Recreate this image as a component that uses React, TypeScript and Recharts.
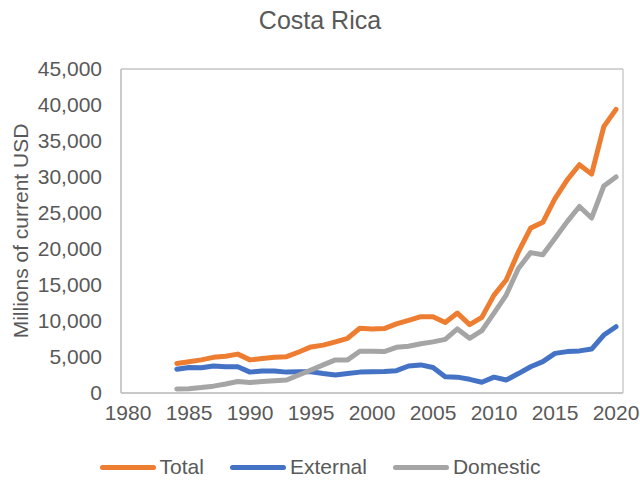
import React from "react";
import { LineChart, Line, XAxis, YAxis, Label, CartesianGrid } from "recharts";

const years = [
  1984, 1985, 1986, 1987, 1988, 1989, 1990, 1991, 1992, 1993, 1994, 1995, 1996,
  1997, 1998, 1999, 2000, 2001, 2002, 2003, 2004, 2005, 2006, 2007, 2008, 2009,
  2010, 2011, 2012, 2013, 2014, 2015, 2016, 2017, 2018, 2019, 2020,
];

const total = [
  4100, 4350, 4600, 4950, 5100, 5400, 4600, 4800, 4950, 5050, 5700, 6400, 6650,
  7100, 7600, 9000, 8900, 8950, 9600, 10100, 10600, 10600, 9800, 11100, 9500,
  10500, 13600, 15700, 19600, 22900, 23700, 27000, 29600, 31700, 30400, 37000,
  39400,
];

const external = [
  3300, 3550, 3500, 3750, 3650, 3650, 2900, 3050, 3050, 2900, 2950, 2950, 2700,
  2500, 2700, 2900, 2950, 3000, 3100, 3750, 3900, 3550, 2250, 2200, 1900, 1500,
  2200, 1800, 2700, 3650, 4350, 5500, 5750, 5850, 6100, 8050, 9200,
];

const domestic = [
  550, 600, 750, 950, 1250, 1600, 1450, 1600, 1700, 1800, 2500, 3200, 3900, 4600,
  4600, 5800, 5800, 5750, 6350, 6500, 6850, 7100, 7450, 8900, 7600, 8650, 11100,
  13600, 17300, 19500, 19200, 21500, 23800, 25900, 24300, 28750, 30000,
];

const xTicks = [1980, 1985, 1990, 1995, 2000, 2005, 2010, 2015, 2020];
const yTicks = [0, 5000, 10000, 15000, 20000, 25000, 30000, 35000, 40000, 45000];

const series = [
  { key: "total", name: "Total", color: "#ED7D31" },
  { key: "external", name: "External", color: "#4472C4" },
  { key: "domestic", name: "Domestic", color: "#A5A5A5" },
];

const data = years.map((year, i) => ({
  year,
  total: total[i],
  external: external[i],
  domestic: domestic[i],
}));

const FONT = '"Liberation Sans", Arial, sans-serif';
const TEXT = "#595959";
const BORDER = "#C4C4C4";

export default function App() {
  return (
    <div
      style={{
        position: "absolute",
        left: 0,
        top: 0,
        width: 640,
        height: 480,
        background: "#fff",
        fontFamily: FONT,
      }}
    >
      <div
        style={{
          position: "absolute",
          top: 8,
          left: 0,
          width: 640,
          textAlign: "center",
          fontSize: 25,
          lineHeight: "25px",
          color: TEXT,
        }}
      >
        Costa Rica
      </div>
      <LineChart
        width={640}
        height={480}
        data={data}
        margin={{ top: 69, right: 17, bottom: 57, left: 0 }}
      >
        {/* plot-area frame, taken from the chart's own offset */}
        <CartesianGrid
          stroke={BORDER}
          strokeWidth={1.3}
          horizontalCoordinatesGenerator={({ offset }: any) => [
            offset.top,
            offset.top + offset.height,
          ]}
          verticalCoordinatesGenerator={({ offset }: any) => [
            offset.left,
            offset.left + offset.width,
          ]}
        />
        <XAxis
          dataKey="year"
          type="number"
          domain={[1980, 2020]}
          ticks={xTicks}
          padding={{ left: 7, right: 7 }}
          height={30}
          tickLine={false}
          tickSize={0}
          tickMargin={12}
          axisLine={{ stroke: BORDER, strokeWidth: 1.3 }}
          tick={{ fill: TEXT, fontSize: 21, fontFamily: FONT }}
        />
        <YAxis
          type="number"
          domain={[0, 45000]}
          ticks={yTicks}
          width={121}
          tickLine={false}
          tickSize={0}
          tickMargin={19}
          axisLine={{ stroke: BORDER, strokeWidth: 1.3 }}
          tick={{ fill: TEXT, fontSize: 21, fontFamily: FONT }}
          tickFormatter={(v: number) => v.toLocaleString("en-US")}
        >
          <Label
            content={({ viewBox }: any) => {
              const cy = viewBox.y + viewBox.height / 2;
              return (
                <text
                  x={20}
                  y={cy}
                  transform={`rotate(-90, 20, ${cy})`}
                  textAnchor="middle"
                  dominantBaseline="central"
                  fill={TEXT}
                  fontSize={21}
                  fontFamily={FONT}
                >
                  Millions of current USD
                </text>
              );
            }}
          />
        </YAxis>
        {series.map((s) => (
          <Line
            key={s.key}
            dataKey={s.key}
            name={s.name}
            stroke={s.color}
            strokeWidth={5}
            strokeLinecap="round"
            strokeLinejoin="round"
            dot={false}
            isAnimationActive={false}
          />
        ))}
      </LineChart>
      <div
        style={{
          position: "absolute",
          top: 455,
          left: 0,
          width: 640,
          display: "flex",
          justifyContent: "center",
          gap: 26,
          fontSize: 21,
          lineHeight: "24px",
          color: TEXT,
        }}
      >
        {series.map((s) => (
          <div key={s.key} style={{ display: "flex", alignItems: "center", gap: 4 }}>
            <div
              style={{
                width: 56,
                height: 5,
                borderRadius: 3,
                background: s.color,
              }}
            />
            <span>{s.name}</span>
          </div>
        ))}
      </div>
    </div>
  );
}
